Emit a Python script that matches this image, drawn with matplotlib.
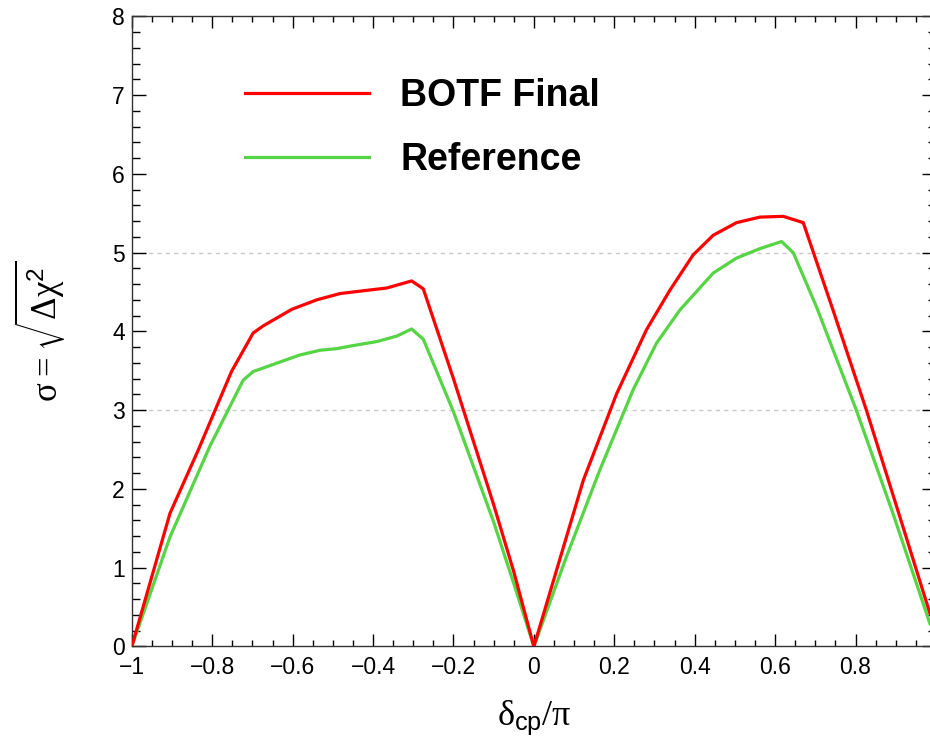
import matplotlib
matplotlib.use("Agg")
import matplotlib.pyplot as plt
from matplotlib.ticker import MultipleLocator, FuncFormatter

# sensitivity curves
botf_x = [-1.0, -0.905, -0.835, -0.752, -0.698, -0.673, -0.602, -0.540, -0.482,
          -0.400, -0.366, -0.304, -0.275, -0.200, -0.100, -0.050, 0.0,
          0.123, 0.206, 0.280, 0.338, 0.396, 0.446, 0.504, 0.562, 0.620, 0.670,
          0.744, 0.827, 0.910, 0.985]
botf_y = [0.0, 1.69, 2.49, 3.49, 3.98, 4.07, 4.28, 4.40, 4.48,
          4.53, 4.55, 4.64, 4.54, 3.40, 1.80, 0.95, 0.0,
          2.11, 3.21, 4.02, 4.52, 4.97, 5.22, 5.38, 5.45, 5.46, 5.38,
          4.27, 3.00, 1.65, 0.42]

ref_x = [-1.0, -0.905, -0.806, -0.723, -0.698, -0.632, -0.582, -0.532, -0.491,
         -0.449, -0.391, -0.341, -0.304, -0.275, -0.200, -0.100, -0.050,
         0.0, 0.081, 0.164, 0.247, 0.305, 0.363, 0.446, 0.504, 0.562, 0.616,
         0.645, 0.703, 0.802, 0.893, 0.985]
ref_y = [0.0, 1.39, 2.54, 3.38, 3.49, 3.61, 3.70, 3.76, 3.78,
         3.82, 3.87, 3.94, 4.03, 3.90, 2.98, 1.58, 0.80,
         0.0, 1.14, 2.24, 3.26, 3.85, 4.27, 4.74, 4.93, 5.05, 5.14,
         5.00, 4.31, 3.00, 1.69, 0.29]

grid_levels = [3, 5]

plt.rcParams['font.family'] = ['Liberation Sans', 'DejaVu Sans']
plt.rcParams['mathtext.fontset'] = 'custom'
plt.rcParams['mathtext.rm'] = 'Liberation Serif'
plt.rcParams['mathtext.sf'] = 'Liberation Sans'
plt.rcParams['mathtext.default'] = 'rm'

fig = plt.figure(figsize=(9.3, 7.38), dpi=100)
ax = fig.add_axes([0.1417, 0.124, 0.8647, 0.854])

for lvl in grid_levels:
    ax.axhline(lvl, color='#c8c8c8', lw=1.0, linestyle=(0, (3, 3)), zorder=1)

ax.plot(botf_x, botf_y, color='#ff0000', lw=2.3, label='BOTF Final', zorder=3)
ax.plot(ref_x, ref_y, color='#55d444', lw=2.3, label='Reference', zorder=2)

ax.set_xlim(-1, 1)
ax.set_ylim(0, 8)

ax.xaxis.set_major_locator(MultipleLocator(0.2))
ax.xaxis.set_minor_locator(MultipleLocator(0.05))
ax.yaxis.set_major_locator(MultipleLocator(1))
ax.yaxis.set_minor_locator(MultipleLocator(0.2))


def fmt(v, pos):
    if abs(v) < 1e-9:
        return '0'
    s = ('%.1f' % v).rstrip('0').rstrip('.')
    return s.replace('-', '\u2212')


def fmt_x(v, pos):
    # the right end of the axis is cut off in the original, so no "1"
    if v > 0.99:
        return ''
    return fmt(v, pos)


ax.xaxis.set_major_formatter(FuncFormatter(fmt_x))
ax.yaxis.set_major_formatter(FuncFormatter(fmt))

ax.tick_params(which='both', direction='in', top=True, right=True, width=1.0,
               labelsize=16.5)
ax.tick_params(axis='x', which='major', length=8.7, pad=7)
ax.tick_params(axis='x', which='minor', length=4.3)
ax.tick_params(axis='y', which='major', length=10, pad=5)
ax.tick_params(axis='y', which='minor', length=5.5)
for sp in ax.spines.values():
    sp.set_linewidth(1.0)
    sp.set_color('#333333')

ax.set_xlabel(r'$\delta_{\mathsf{cp}}/\pi$', fontsize=26, labelpad=14)
ax.set_ylabel(r'$\sigma = \sqrt{\Delta\chi^{\mathsf{2}}}$', fontsize=25,
              labelpad=32)

ax.legend(loc='upper left', bbox_to_anchor=(0.141, 0.902), frameon=False,
          prop={'weight': 'bold', 'size': 27}, handlelength=3.3,
          handletextpad=0.83, labelspacing=0.74, borderpad=0, borderaxespad=0)

fig.savefig('out.png', dpi=100)
